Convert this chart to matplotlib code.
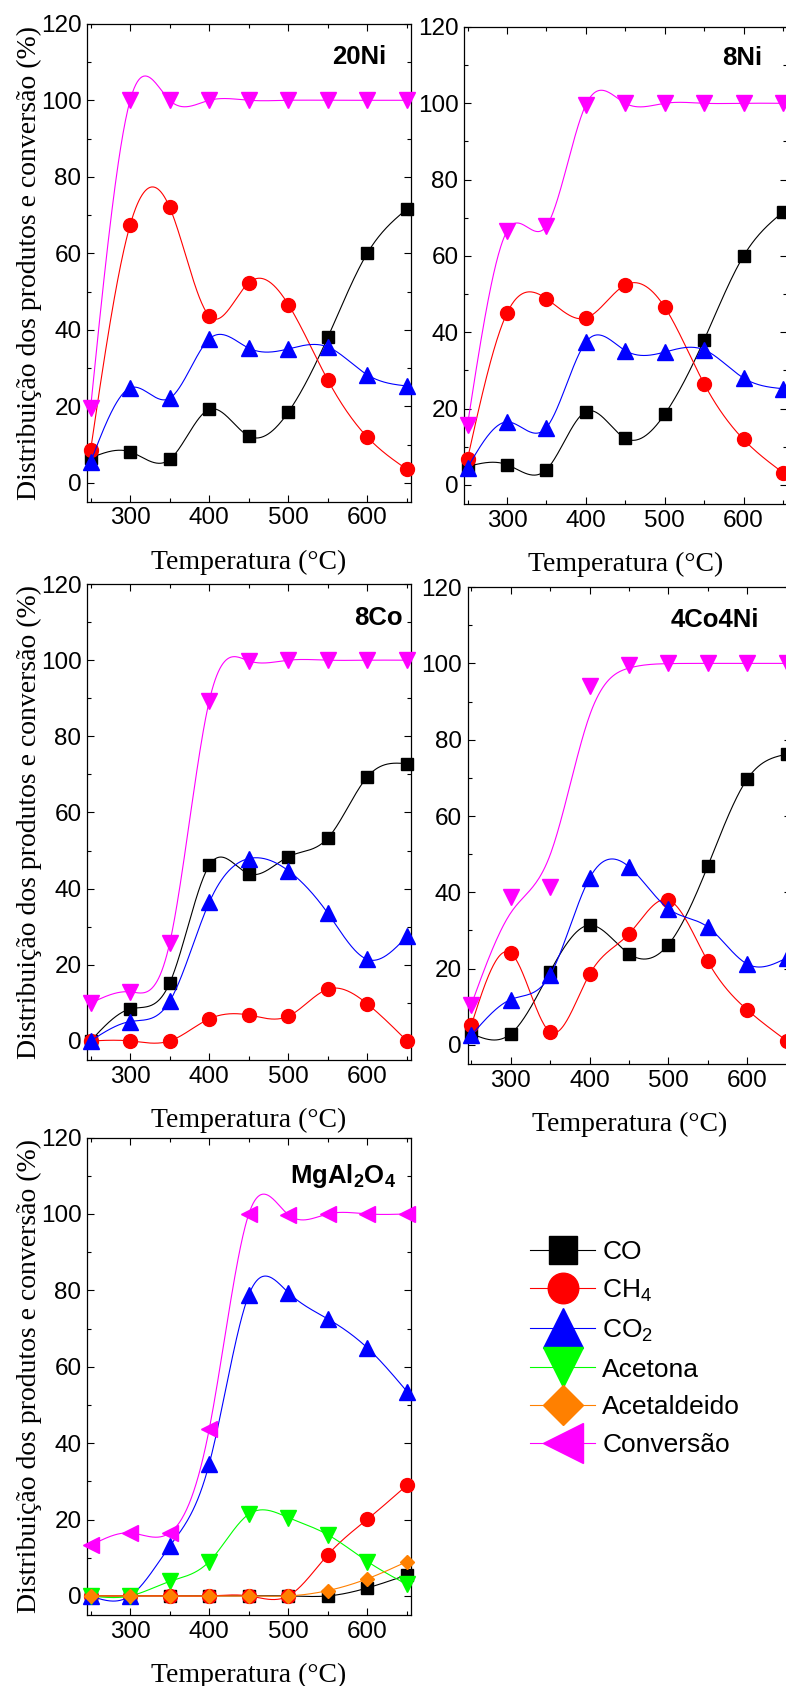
import numpy as np
import matplotlib.pyplot as plt
from matplotlib.lines import Line2D
from matplotlib.ticker import MultipleLocator

plt.rcParams['font.family'] = 'Liberation Sans'
plt.rcParams['mathtext.fontset'] = 'custom'
plt.rcParams['mathtext.rm'] = 'Liberation Sans'
plt.rcParams['mathtext.it'] = 'Liberation Sans:italic'
plt.rcParams['mathtext.bf'] = 'Liberation Sans:bold'

# --- DATA ---
temp = [250, 300, 350, 400, 450, 500, 550, 600, 650]

ni20_co = [6.5, 8.1, 6.1, 19.2, 12.2, 18.5, 38.1, 60.1, 71.6]
ni20_ch4 = [8.5, 67.4, 72.0, 43.6, 52.3, 46.6, 26.8, 11.9, 3.5]
ni20_co2 = [5.4, 24.8, 22.1, 37.6, 35.2, 35.0, 35.5, 28.2, 25.3]
ni20_conv = [19.5, 100, 100, 100, 100, 100, 100, 100, 100]

ni8_co = [4.8, 5.3, 4.0, 19.2, 12.2, 18.5, 38.0, 60.0, 71.5]
ni8_ch4 = [6.8, 45.0, 48.8, 43.7, 52.4, 46.6, 26.5, 11.9, 3.2]
ni8_co2 = [4.5, 16.5, 15.0, 37.4, 35.2, 34.8, 35.4, 28.0, 25.2]
ni8_conv = [15.8, 66.5, 67.8, 99.6, 100, 100, 100, 100, 100]

co8_co = [0, 8.4, 15.2, 46.1, 43.9, 48.4, 53.3, 69.4, 72.8]
co8_ch4 = [0, 0, 0, 5.8, 6.8, 6.5, 13.6, 9.7, 0]
co8_co2 = [0, 5.1, 10.4, 36.4, 47.9, 44.7, 33.5, 21.4, 27.5]
co8_conv = [9.9, 12.9, 25.7, 89.3, 99.8, 100, 100, 100, 100]

coni_co = [3.0, 2.9, 19.2, 31.4, 23.9, 26.3, 46.9, 69.7, 76.2]
coni_ch4 = [5.1, 24.1, 3.4, 18.5, 29.1, 38.0, 21.9, 9.2, 1.1]
coni_co2 = [2.5, 11.9, 18.3, 43.7, 46.7, 35.7, 30.9, 21.2, 22.8]
coni_conv = [10.5, 38.9, 41.4, 94.2, 99.6, 100, 100, 100, 100]

mg_co = [0, 0, 0, 0, 0, 0, 0, 2.1, 5.5]
mg_ch4 = [0, 0, 0, 0, 0, 0, 10.8, 20.1, 29.0]
mg_co2 = [0, 0, 13.0, 34.6, 78.8, 79.4, 72.5, 64.9, 53.5]
mg_acetona = [0, 0, 3.8, 9.0, 21.4, 20.5, 16.0, 9.0, 3.0]
mg_acetaldeido = [0, 0, 0, 0, 0, 0, 1.4, 4.5, 9.0]
mg_conv = [13.2, 16.5, 16.5, 43.7, 100, 99.8, 100, 100, 100]

labels = ['CO', 'CH$_4$', 'CO$_2$', 'Acetona', 'Acetaldeido', 'Conversão']
colors = ['black', '#ff0000', '#0000ff', '#00ff00', '#ff8000', '#ff00ff']


def natural_spline(x, y, num=400):
    x = np.asarray(x, float)
    y = np.asarray(y, float)
    n = len(x)
    h = np.diff(x)
    A = np.zeros((n, n))
    b = np.zeros(n)
    A[0, 0] = A[-1, -1] = 1
    for i in range(1, n - 1):
        A[i, i - 1] = h[i - 1]
        A[i, i] = 2 * (h[i - 1] + h[i])
        A[i, i + 1] = h[i]
        b[i] = 6 * ((y[i + 1] - y[i]) / h[i] - (y[i] - y[i - 1]) / h[i - 1])
    M = np.linalg.solve(A, b)
    xs = np.linspace(x[0], x[-1], num)
    idx = np.clip(np.searchsorted(x, xs) - 1, 0, n - 2)
    x0, x1 = x[idx], x[idx + 1]
    hh = x1 - x0
    a = (x1 - xs) / hh
    c = (xs - x0) / hh
    ys = a * y[idx] + c * y[idx + 1] + ((a**3 - a) * M[idx] + (c**3 - c) * M[idx + 1]) * hh**2 / 6
    return xs, ys


def b_spline(x, y, num=40):
    # uniform cubic B-spline, data used as control points, ends pinned
    x = np.asarray(x, float)
    y = np.asarray(y, float)
    P = np.concatenate([[2 * y[0] - y[1]], y, [2 * y[-1] - y[-2]]])
    xs, ys = [], []
    t = np.linspace(0, 1, num)
    for i in range(len(x) - 1):
        p0, p1, p2, p3 = P[i], P[i + 1], P[i + 2], P[i + 3]
        yy = ((1 - t)**3 * p0 + (3 * t**3 - 6 * t**2 + 4) * p1
              + (-3 * t**3 + 3 * t**2 + 3 * t + 1) * p2 + t**3 * p3) / 6
        xs.append(x[i] + t * (x[i + 1] - x[i]))
        ys.append(yy)
    return np.concatenate(xs), np.concatenate(ys)


fig = plt.figure(figsize=(7.86, 16.86), dpi=100)

S, C, T, D = 8.5, 10, 11, 7.5
panels = [
    ('20Ni', [(ni20_co, 0, 's', S, 0), (ni20_ch4, 1, 'o', C, 0), (ni20_co2, 2, '^', T, 0), (ni20_conv, 5, 'v', T, 0)],
     [0.1107, 0.7023, 0.4122, 0.2836], True, (0.84, 0.93)),
    ('8Ni', [(ni8_co, 0, 's', S, 0), (ni8_ch4, 1, 'o', C, 0), (ni8_co2, 2, '^', T, 0), (ni8_conv, 5, 'v', T, 0)],
     [0.5903, 0.7011, 0.4109, 0.2829], False, (0.86, 0.935)),
    ('8Co', [(co8_co, 0, 's', S, 0), (co8_ch4, 1, 'o', C, 0), (co8_co2, 2, '^', T, 0), (co8_conv, 5, 'v', T, 0)],
     [0.1107, 0.3713, 0.4122, 0.2823], True, (0.90, 0.928)),
    ('4Co4Ni', [(coni_co, 0, 's', S, 0), (coni_ch4, 1, 'o', C, 0), (coni_co2, 2, '^', T, 0), (coni_conv, 5, 'v', T, 1)],
     [0.5950, 0.3689, 0.4109, 0.2829], False, (0.766, 0.93)),
    (r'$\mathbf{MgAl_2O_4}$', [(mg_co, 0, 's', S, 0), (mg_ch4, 1, 'o', C, 0), (mg_co2, 2, '^', T, 0),
                               (mg_acetona, 3, 'v', T, 0), (mg_acetaldeido, 4, 'D', D, 0), (mg_conv, 5, '<', T, 0)],
     [0.1107, 0.0421, 0.4122, 0.2832], True, (0.79, 0.92)),
]

for title, series, rect, show_ylabel, tpos in panels:
    ax = fig.add_axes(rect)
    z = 2
    for vals, ci, mk, ms, smooth in series:
        if smooth:
            xs, ys = b_spline(temp, vals)
        else:
            xs, ys = natural_spline(temp, vals)
        ax.plot(xs, ys, color=colors[ci], lw=0.8, zorder=z)
        ax.plot(temp, vals, ls='none', marker=mk, ms=ms, color=colors[ci],
                mec=colors[ci], zorder=z + 0.5, clip_on=False)
        z += 1
    ax.set_xlim(245.5, 655)
    ax.set_ylim(-5, 120)
    ax.xaxis.set_major_locator(MultipleLocator(100))
    ax.xaxis.set_minor_locator(MultipleLocator(50))
    ax.yaxis.set_major_locator(MultipleLocator(20))
    ax.yaxis.set_minor_locator(MultipleLocator(10))
    ax.tick_params(which='both', direction='in', top=True, right=True, width=0.8)
    ax.tick_params(which='major', length=5, labelsize=17.5, pad=4)
    ax.tick_params(which='minor', length=3)
    for sp in ax.spines.values():
        sp.set_linewidth(0.9)
    ax.set_xlabel('Temperatura (°C)', family='Liberation Serif', fontsize=20)
    ax.xaxis.set_label_coords(0.5, -0.1)
    if show_ylabel:
        ax.set_ylabel('Distribuição dos produtos e conversão (%)', family='Liberation Serif', fontsize=20)
        ax.yaxis.set_label_coords(-0.138, 0.5)
    ax.text(tpos[0], tpos[1], title, transform=ax.transAxes, ha='center', va='center',
            fontsize=18.5, fontweight='bold')

# legend
handles = [
    Line2D([0], [0], color=colors[0], lw=0.8, marker='s', ms=20),
    Line2D([0], [0], color=colors[1], lw=0.8, marker='o', ms=22),
    Line2D([0], [0], color=colors[2], lw=0.8, marker='^', ms=29),
    Line2D([0], [0], color=colors[3], lw=0.8, marker='v', ms=29),
    Line2D([0], [0], color=colors[4], lw=0.8, marker='D', ms=20),
    Line2D([0], [0], color=colors[5], lw=0.8, marker='<', ms=29),
]
fig.legend(handles, labels, loc='upper left', bbox_to_anchor=(530 / 786, 1 - 1240 / 1686),
           frameon=False, fontsize=19, handlelength=2.47, handletextpad=0.27,
           labelspacing=0.52, borderpad=0, borderaxespad=0)

fig.savefig('out.png', dpi=100)
